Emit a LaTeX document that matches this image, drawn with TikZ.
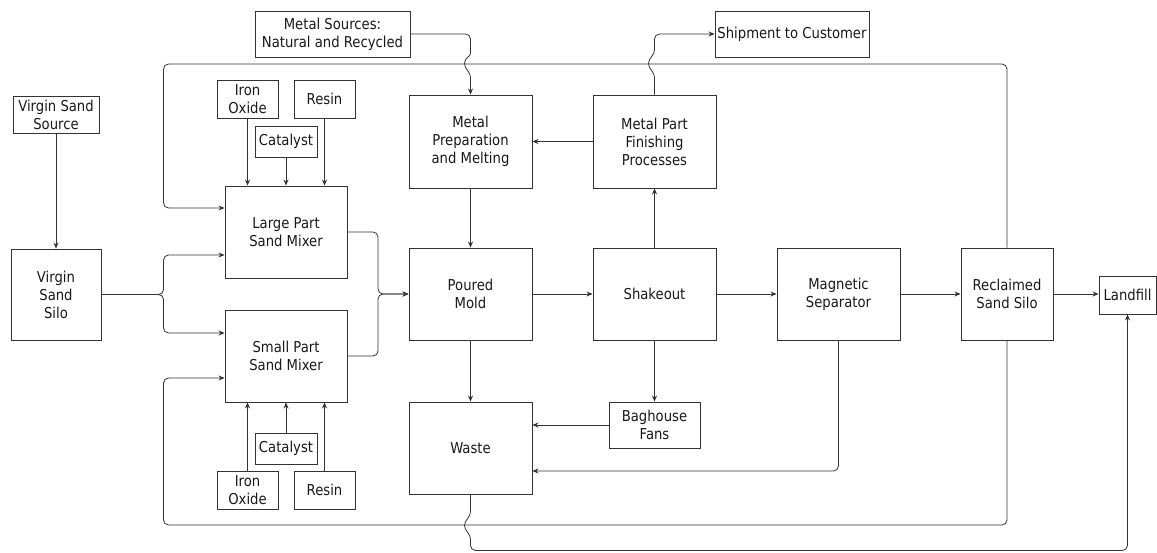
\documentclass[tikz,border=0pt]{standalone}
\usepackage{fontspec}
\setmainfont[FakeStretch=0.88]{DejaVu Sans}
\usetikzlibrary{arrows.meta,calc}
\definecolor{ln}{HTML}{333333}
\begin{document}
\begin{tikzpicture}[x=1pt,y=-1pt,
  box/.style={draw=ln, line width=0.9pt, fill=white, align=center, inner sep=1pt, font=\fontsize{15}{18}\selectfont, text=black!90},
  bx/.style 2 args={minimum width=#1pt, minimum height=#2pt},
  arr/.style={draw=ln, line width=0.8pt, -{Stealth[length=6pt,width=5pt]}},
  rc/.style={rounded corners=5pt}]
\fill[white] (0,0) rectangle (1157,553);
\useasboundingbox (0,0) rectangle (1157,553);

% nodes
\node[box,bx={155}{46}] (ms) at (332.5,34) {Metal Sources:\\Natural and Recycled};
\node[box,bx={154}{46}] (ship) at (792,34) {Shipment to Customer};
\node[box,bx={86}{37}] (vss) at (56,114.5) {Virgin Sand\\Source};
\node[box,bx={61}{38}] (io1) at (247.5,99) {Iron\\Oxide};
\node[box,bx={61}{38}] (res1) at (324.5,99) {Resin};
\node[box,bx={62}{31}] (cat1) at (286,141.5) {Catalyst};
\node[box,bx={122}{92}] (lm) at (286,232) {Large Part\\Sand Mixer};
\node[box,bx={90}{91}] (silo) at (56,294.5) {Virgin\\Sand\\Silo};
\node[box,bx={122}{92}] (sm) at (286,356) {Small Part\\Sand Mixer};
\node[box,bx={62}{31}] (cat2) at (286,448.5) {Catalyst};
\node[box,bx={61}{38}] (io2) at (247.5,490) {Iron\\Oxide};
\node[box,bx={61}{38}] (res2) at (324.5,490) {Resin};
\node[box,bx={123}{93}] (mp) at (470.5,141.5) {Metal\\Preparation\\and Melting};
\node[box,bx={123}{93}] (fin) at (654.5,141.5) {Metal Part\\Finishing\\Processes};
\node[box,bx={123}{92}] (pm) at (470.5,294) {Poured\\Mold};
\node[box,bx={123}{92}] (sh) at (654.5,294) {Shakeout};
\node[box,bx={123}{92}] (mag) at (838.5,294) {Magnetic\\Separator};
\node[box,bx={92}{92}] (rec) at (1007,294) {Reclaimed\\Sand Silo};
\node[box,bx={57}{38}] (lf) at (1127.5,295) {Landfill};
\node[box,bx={123}{92}] (waste) at (470.5,448) {Waste};
\node[box,bx={91}{46}] (bag) at (654.5,425) {Baghouse\\Fans};

% additives
\draw[arr] (io1.south) -- (io1.south |- lm.north);
\draw[arr] (cat1.south) -- (cat1.south |- lm.north);
\draw[arr] (res1.south) -- (res1.south |- lm.north);
\draw[arr] (io2.north) -- (io2.north |- sm.south);
\draw[arr] (cat2.north) -- (cat2.north |- sm.south);
\draw[arr] (res2.north) -- (res2.north |- sm.south);

% virgin sand
\draw[arr] (vss.south) -- (silo.north);
\draw[arr,rc] (silo.east) -| ($(lm.west)+(-61,23)$) -- ($(lm.west)+(0,23)$);
\draw[arr,rc] (silo.east) -| ($(sm.west)+(-61,-23)$) -- ($(sm.west)+(0,-23)$);

% mixers to poured mold
\coordinate (mj) at (378,294);
\draw[arr,rc] (lm.east) -| (mj) -- (pm.west);
\draw[arr,rc] (sm.east) -| (mj) -- (pm.west);

% reclaimed sand loops
\draw[arr,rc] (rec.north) |- ($(lm.west)+(-61,-168)$) |- ($(lm.west)+(0,-24)$);
\draw[arr,rc] (rec.south) |- ($(sm.west)+(-61,169)$) |- ($(sm.west)+(0,22)$);

% metal sources to melting (with line jump)
\draw[arr] (ms.east) [rounded corners=5pt] -| ($(mp.north)+(0,-46)$) [sharp corners]
  .. controls +(0,8) and +(0,-6) .. ($(mp.north)+(-6,-31)$)
  .. controls +(0,6) and +(0,-8) .. ($(mp.north)+(0,-16)$) -- (mp.north);

% finishing to shipment (with line jump)
\draw[arr] (fin.north) -- ($(fin.north)+(0,-16)$)
  .. controls +(0,-8) and +(0,6) .. ($(fin.north)+(-6,-31)$)
  .. controls +(0,-6) and +(0,8) .. ($(fin.north)+(0,-46)$) [rounded corners=5pt] |- (ship.west);

% main flow
\draw[arr] (fin) -- (mp);
\draw[arr] (mp) -- (pm);
\draw[arr] (pm) -- (sh);
\draw[arr] (sh) -- (fin);
\draw[arr] (sh) -- (mag);
\draw[arr] (mag) -- (rec);
\draw[arr] (rec.east) -- (lf.west |- rec.east);
\draw[arr] (sh) -- (bag);
\draw[arr] (bag.west) -- (bag.west -| waste.east);
\draw[arr] (pm) -- (waste);
\draw[arr,rc] (mag.south) |- ($(waste.east)+(0,23)$);

% waste to landfill (with line jump)
\draw[arr] (waste.south) -- ($(waste.south)+(0,16)$)
  .. controls +(0,8) and +(0,-6) .. ($(waste.south)+(-6,31)$)
  .. controls +(0,6) and +(0,-8) .. ($(waste.south)+(0,46)$)
  [rounded corners=5pt] |- ($(lf.south)+(0,236)$) -- (lf.south);
\end{tikzpicture}
\end{document}
